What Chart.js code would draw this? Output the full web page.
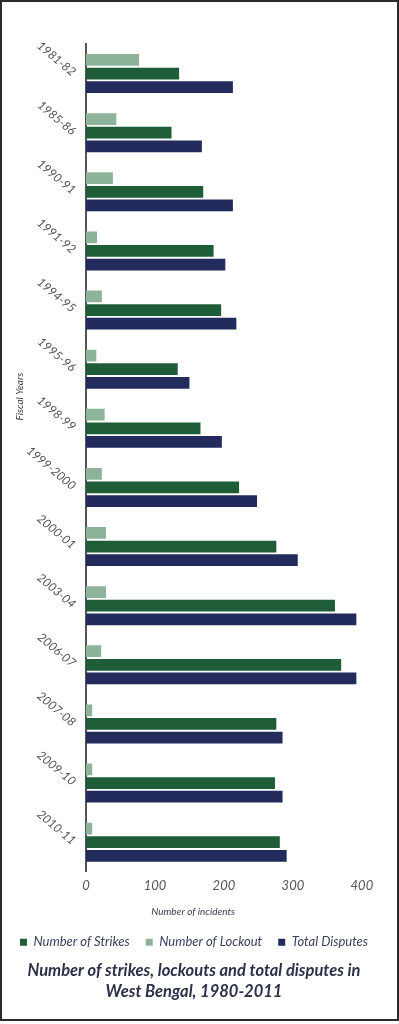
<!DOCTYPE html>
<html>
<head>
<meta charset="utf-8">
<script src="https://cdn.jsdelivr.net/npm/chart.js@4.4.1/dist/chart.umd.min.js"></script>
<style>
  html, body { margin: 0; padding: 0; background: #fff; }
  #frame {
    position: absolute; left: 0; top: 0;
    width: 395px; height: 1017px;
    border: 2px solid #2b2b2b;
  }
  canvas { display: block; }
</style>
</head>
<body>
<div id="frame"><canvas id="disputes" width="395" height="1017"></canvas></div>
<script>
// Fiscal years (top to bottom)
const years = ['1981-82', '1985-86', '1990-91', '1991-92', '1994-95', '1995-96', '1998-99',
    '1999-2000', '2000-01', '2003-04', '2006-07', '2007-08', '2009-10', '2010-11']

// values
const lockouts = [77, 44, 39, 16, 23, 15, 27, 23, 29, 29, 22, 9, 9, 9]
const strikes = [135, 124, 170, 185, 196, 133, 166, 222, 276, 361, 370, 276, 274, 281]
const totalDisputes = [213, 168, 213, 202, 218, 150, 197, 248, 307, 392, 392, 285, 285, 291]

const xTicks = [0, 100, 200, 300, 400]
const legendOrder = ['Number of Strikes', 'Number of Lockout', 'Total Disputes']

const FONT = 'Lato'

// axis titles sit off-centre in the source, so draw them here
const axisTitles = {
    id: 'axisTitles',
    afterDraw(chart) {
        const {ctx, chartArea} = chart
        ctx.save()
        ctx.font = 'italic 10px ' + FONT
        ctx.fillStyle = '#3a3e52'
        ctx.textAlign = 'center'
        ctx.textBaseline = 'middle'
        ctx.fillText('Number of incidents', chartArea.left + chartArea.width * 0.357, chartArea.bottom + 40)
        ctx.translate(18, chartArea.top + chartArea.height * 0.426)
        ctx.rotate(-Math.PI / 2)
        ctx.fillText('Fiscal Years', 0, 0)
        ctx.restore()
    }
}

const data_disputes = {
    labels: years,
    datasets: [{
        label: 'Number of Lockout',
        backgroundColor: '#8db49b',
        data: lockouts,
    },
    {
        label: 'Number of Strikes',
        backgroundColor: '#1f5d39',
        data: strikes,
    },
    {
        label: 'Total Disputes',
        backgroundColor: '#222b5c',
        data: totalDisputes,
    }
]}

const options_disputes = {
    indexAxis: 'y',
    responsive: false,
    animation: false,
    devicePixelRatio: 1,
    datasets: {
        bar: {categoryPercentage: 0.69, barPercentage: 0.86}
    },
    layout: {
        padding: {top: 42, left: 0, right: 11, bottom: 17}
    },
    scales: {
        x: {
            min: 0,
            max: 435,
            afterBuildTicks: (scale) => {
                scale.ticks = xTicks.map(v => ({value: v}))
            },
            afterFit: (scale) => { scale.height = 48 },
            grid: {display: false, drawTicks: false},
            border: {display: false},
            ticks: {
                padding: 6,
                color: '#555',
                font: {family: FONT, size: 13, style: 'italic'}
            }
        },
        y: {
            afterFit: (scale) => { scale.width = 84 },
            grid: {display: false, drawTicks: false},
            border: {display: true, color: '#555', width: 2},
            ticks: {
                padding: 12,
                minRotation: -40,
                maxRotation: -40,
                color: '#555',
                font: {family: FONT, size: 12, style: 'italic'}
            }
        }
    },
    plugins: {
        legend: {
            position: 'bottom',
            labels: {
                boxWidth: 7,
                boxHeight: 7,
                padding: 16,
                color: '#3a3f5c',
                font: {family: FONT, size: 13, style: 'italic'},
                sort: (a, b) => legendOrder.indexOf(a.text) - legendOrder.indexOf(b.text)
            }
        },
        title: {
            display: true,
            position: 'bottom',
            text: ['Number of strikes, lockouts and total disputes in', 'West Bengal, 1980-2011'],
            color: '#2c3048',
            padding: {top: 2, bottom: 0},
            font: {family: FONT, size: 16.5, style: 'italic', weight: 'bold', lineHeight: 1.25}
        },
        tooltip: {enabled: false}
    }
}

const config_disputes = {
    type: 'bar',
    data: data_disputes,
    options: options_disputes,
    plugins: [axisTitles]
}

new Chart(document.getElementById('disputes'), config_disputes)
</script>
</body>
</html>
